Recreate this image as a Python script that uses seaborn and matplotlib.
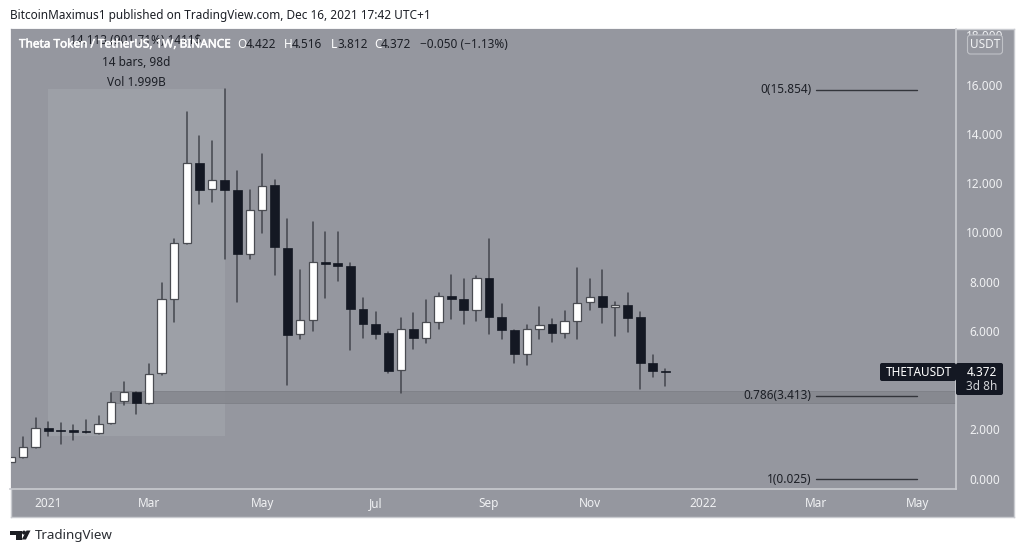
import matplotlib
matplotlib.use("Agg")
import matplotlib.pyplot as plt
import matplotlib.patheffects as pe
from matplotlib.patches import Rectangle, FancyBboxPatch, Polygon, Circle
import numpy as np
import pandas as pd
import seaborn as sns

# weekly candles, first one (week -1) is cut by the left edge of the pane
weeks = list(range(-1, 52))
opens = [0.72, 0.93, 1.34, 2.12, 2.00, 2.00, 1.98, 1.90, 2.30, 3.19, 3.57, 3.13, 4.33, 7.35, 9.61, 12.86, 11.81, 12.18, 11.77, 9.17, 10.95,
         11.97, 9.44, 5.92, 6.51, 8.84, 8.80, 8.69, 6.93, 6.35, 5.96, 4.45, 6.12, 5.75, 6.40, 7.47, 7.35, 6.90, 8.19, 6.61, 6.09, 5.12, 6.12,
         6.32, 5.98, 6.46, 7.22, 7.46, 7.04, 7.10, 6.63, 4.75, 4.42]
highs = [0.95, 1.73, 2.53, 2.37, 2.30, 2.23, 2.44, 2.61, 3.52, 3.97, 3.57, 4.72, 8.01, 9.80, 14.96, 13.97, 13.77, 15.88, 12.55, 11.78, 13.23,
         12.19, 10.61, 8.53, 10.49, 10.09, 10.09, 8.80, 7.40, 6.82, 6.00, 6.58, 6.77, 7.31, 7.61, 8.34, 8.16, 8.29, 9.78, 7.15, 6.09, 6.28, 7.04,
         6.55, 6.85, 8.60, 8.15, 8.52, 7.22, 7.58, 6.82, 5.06, 4.52]
lows = [0.70, 0.91, 1.32, 1.79, 1.47, 1.62, 1.90, 1.88, 2.28, 3.06, 2.68, 3.10, 4.28, 6.40, 9.58, 11.22, 11.28, 8.98, 7.24, 8.96, 10.02,
        8.31, 3.86, 5.73, 6.06, 7.38, 8.10, 5.28, 5.78, 5.74, 4.36, 3.52, 5.31, 5.58, 6.13, 6.54, 6.34, 6.44, 5.93, 5.71, 4.74, 4.68, 5.71,
        5.61, 5.77, 5.73, 6.90, 6.39, 5.85, 6.01, 3.68, 4.18, 3.81]
closes = [0.93, 1.34, 2.12, 1.98, 1.98, 1.96, 1.93, 2.29, 3.18, 3.57, 3.13, 4.32, 7.35, 9.61, 12.86, 11.79, 12.18, 11.77, 9.17, 10.95, 11.95,
          9.45, 5.89, 6.51, 8.84, 8.78, 8.70, 6.95, 6.35, 5.94, 4.44, 6.12, 5.75, 6.40, 7.46, 7.35, 6.90, 8.19, 6.61, 6.09, 5.12, 6.12, 6.31,
          5.98, 6.46, 7.20, 7.45, 7.04, 7.11, 6.59, 4.74, 4.42, 4.372]
x_tick_pos = [2, 10, 19, 28, 37, 45, 54, 63, 71]
x_tick_labels = ["2021", "Mar", "May", "Jul", "Sep", "Nov", "2022", "Mar", "May"]
y_ticks = [0, 2, 6, 8, 10, 12, 14, 16, 18]
fib_levels = [15.854, 3.413, 0.025]
fib_labels = ["0(15.854)", "0.786(3.413)", "1(0.025)"]
range_weeks = (2, 16)
range_prices = (1.79, 15.88)
zone_prices = (3.14, 3.63)
fib_weeks = (63, 71)

W, H = 1024, 554
PANE = "#95979f"
LINE = "#c9cbd0"
DARK = "#141823"
TXT = "#1c1f26"
LIGHT = "#f0f1f3"
FS = 8.5

sns.set_theme(style="white")
plt.rcParams["font.family"] = ["Noto Sans", "DejaVu Sans"]

fig = plt.figure(figsize=(W / 100, H / 100), dpi=100, facecolor="white")
L, R, RO, T, B, BO = 10.5, 956, 1013.5, 28.5, 488.5, 517
ax = fig.add_axes([L / W, 1 - B / H, (R - L) / W, (B - T) / H], facecolor=PANE)
bg = fig.add_axes([L / W, 1 - BO / H, (RO - L) / W, (BO - T) / H], facecolor=PANE, zorder=-1)
bg.set_xticks([]); bg.set_yticks([])
for s in bg.spines.values():
    s.set_color(LINE); s.set_linewidth(1)

xs = 12.594
ax.set_xlim((L - 23) / xs, (R - 23) / xs)
ax.set_ylim((480 - B) / 24.62, (480 - T) / 24.62)

df = pd.DataFrame(dict(week=weeks, open=opens, high=highs, low=lows, close=closes))
wicks = pd.concat([df[["week", "high"]].rename(columns={"high": "price"}),
                   df[["week", "low"]].rename(columns={"low": "price"})])

ax.add_patch(Rectangle((range_weeks[0], range_prices[0]), range_weeks[1] - range_weeks[0],
                       range_prices[1] - range_prices[0], fc="#9da0a7", ec="none", zorder=1))
ax.axhspan(zone_prices[0], zone_prices[1], xmin=(111 - L) / (R - L), fc="#85878e", ec="#7b7d84", lw=0.6, alpha=0.85, zorder=1.5)

sns.lineplot(data=wicks, x="week", y="price", units="week", estimator=None, sort=False,
             color="#44464d", lw=1.1, ax=ax, zorder=2, legend=False)
up = df.close >= df.open
body = (df.close - df.open).abs().clip(lower=0.07)
bottom = df[["open", "close"]].min(axis=1)
ax.bar(df.week[up], body[up], bottom=bottom[up], width=0.66, color="white", edgecolor="#4a4c52", lw=0.9, zorder=3)
ax.bar(df.week[~up], body[~up], bottom=bottom[~up], width=0.70, color=DARK, edgecolor=DARK, lw=0.5, zorder=3)

for lev, lab in zip(fib_levels, fib_labels):
    ax.plot(fib_weeks, [lev, lev], color="#33353b", lw=1.0, zorder=4)
    ax.annotate(lab, (fib_weeks[0], lev), xytext=(-3.5, 0), textcoords="offset points", ha="right", va="center",
                fontsize=FS, color=TXT, zorder=4)

ax.set_xticks([]); ax.set_yticks([])
ax.set_xlabel(""); ax.set_ylabel("")
for k in ("left", "top"):
    ax.spines[k].set_visible(False)
for k in ("right", "bottom"):
    ax.spines[k].set_color(LINE); ax.spines[k].set_linewidth(1.2)

def px(x, y):
    return x / W, 1 - y / H

for w, lab in zip(x_tick_pos, x_tick_labels):
    X = 23 + xs * w
    fig.text(*px(X, 503.5), lab, ha="center", va="center", fontsize=FS, color=LIGHT,
             fontweight="bold" if lab in ("2021", "2022") else "normal")
for v in y_ticks:
    fig.text(*px(985, 480 - 24.62 * v), f"{v}.000", ha="center", va="center", fontsize=FS, color=LIGHT, zorder=5)

# header and overlay layer
fig.text(*px(10.5, 16), "BitcoinMaximus1 published on TradingView.com, Dec 16, 2021 17:42 UTC+1", fontsize=8.5, color=TXT, va="center")

ov = fig.add_axes([0, 0, 1, 1], facecolor="none", zorder=6)
ov.set_xlim(0, W); ov.set_ylim(H, 0); ov.axis("off")

ov.text(136, 41, "14.113 (901.71%) 1411$", fontsize=FS, color=TXT, ha="center", va="center")
ov.add_patch(Rectangle((17, 39.5), 225, 12, fc=PANE, ec="none"))
halo = [pe.withStroke(linewidth=0.35, foreground="white")]
ov.text(19, 44, "Theta Token / TetherUS, 1W, BINANCE", fontsize=FS, color="white", va="center", path_effects=halo)
for X, s, c in [(237.5, "O", "white"), (246, "4.422", TXT), (284, "H", "white"), (292, "4.516", TXT),
                (330.5, "L", "white"), (337, "3.812", TXT), (374.5, "C", "white"), (381, "4.372", TXT), (420, "−0.050 (−1.13%)", TXT)]:
    ov.text(X, 44, s, fontsize=FS, color=c, va="center")
ov.text(136, 62, "14 bars, 98d", fontsize=FS, color=TXT, ha="center", va="center")
ov.text(136, 82, "Vol 1.999B", fontsize=FS, color=TXT, ha="center", va="center")

# price tag
ov.add_patch(FancyBboxPatch((880, 363), 76, 18, boxstyle="round,pad=0,rounding_size=2", fc=DARK, ec="none"))
ov.add_patch(FancyBboxPatch((956, 363), 47, 32, boxstyle="round,pad=0,rounding_size=2", fc=DARK, ec="none"))
ov.text(886, 372, "THETAUSDT", color="white", fontsize=FS, va="center")
ov.text(997, 372, "4.372", color="white", fontsize=FS, va="center", ha="right")
ov.text(997, 387, "3d 8h", color="#d0d2d6", fontsize=FS, va="center", ha="right")
ov.add_patch(FancyBboxPatch((967.5, 35), 35, 19, boxstyle="round,pad=0,rounding_size=3", fc=PANE, ec="#c0c2c7", lw=0.8))
ov.text(985, 44, "USDT", color=LIGHT, fontsize=FS, va="center", ha="center")

# TradingView logo and wordmark
LOGO = "#1d1f24"
ov.add_patch(Polygon([(10, 530.5), (21.5, 530.5), (21.5, 539.5), (16, 539.5), (16, 534.5), (10, 534.5)], fc=LOGO, ec="none"))
ov.add_patch(Circle((24, 532.6), 2.0, fc=LOGO, ec="none"))
ov.add_patch(Polygon([(26.5, 530.5), (30.5, 530.5), (26, 539.5), (21.8, 539.5)], fc=LOGO, ec="none"))
ov.text(34.5, 536, "TradingView", color="#2a2d33", fontsize=9.6, va="center")

fig.savefig("out.png", dpi=100)
